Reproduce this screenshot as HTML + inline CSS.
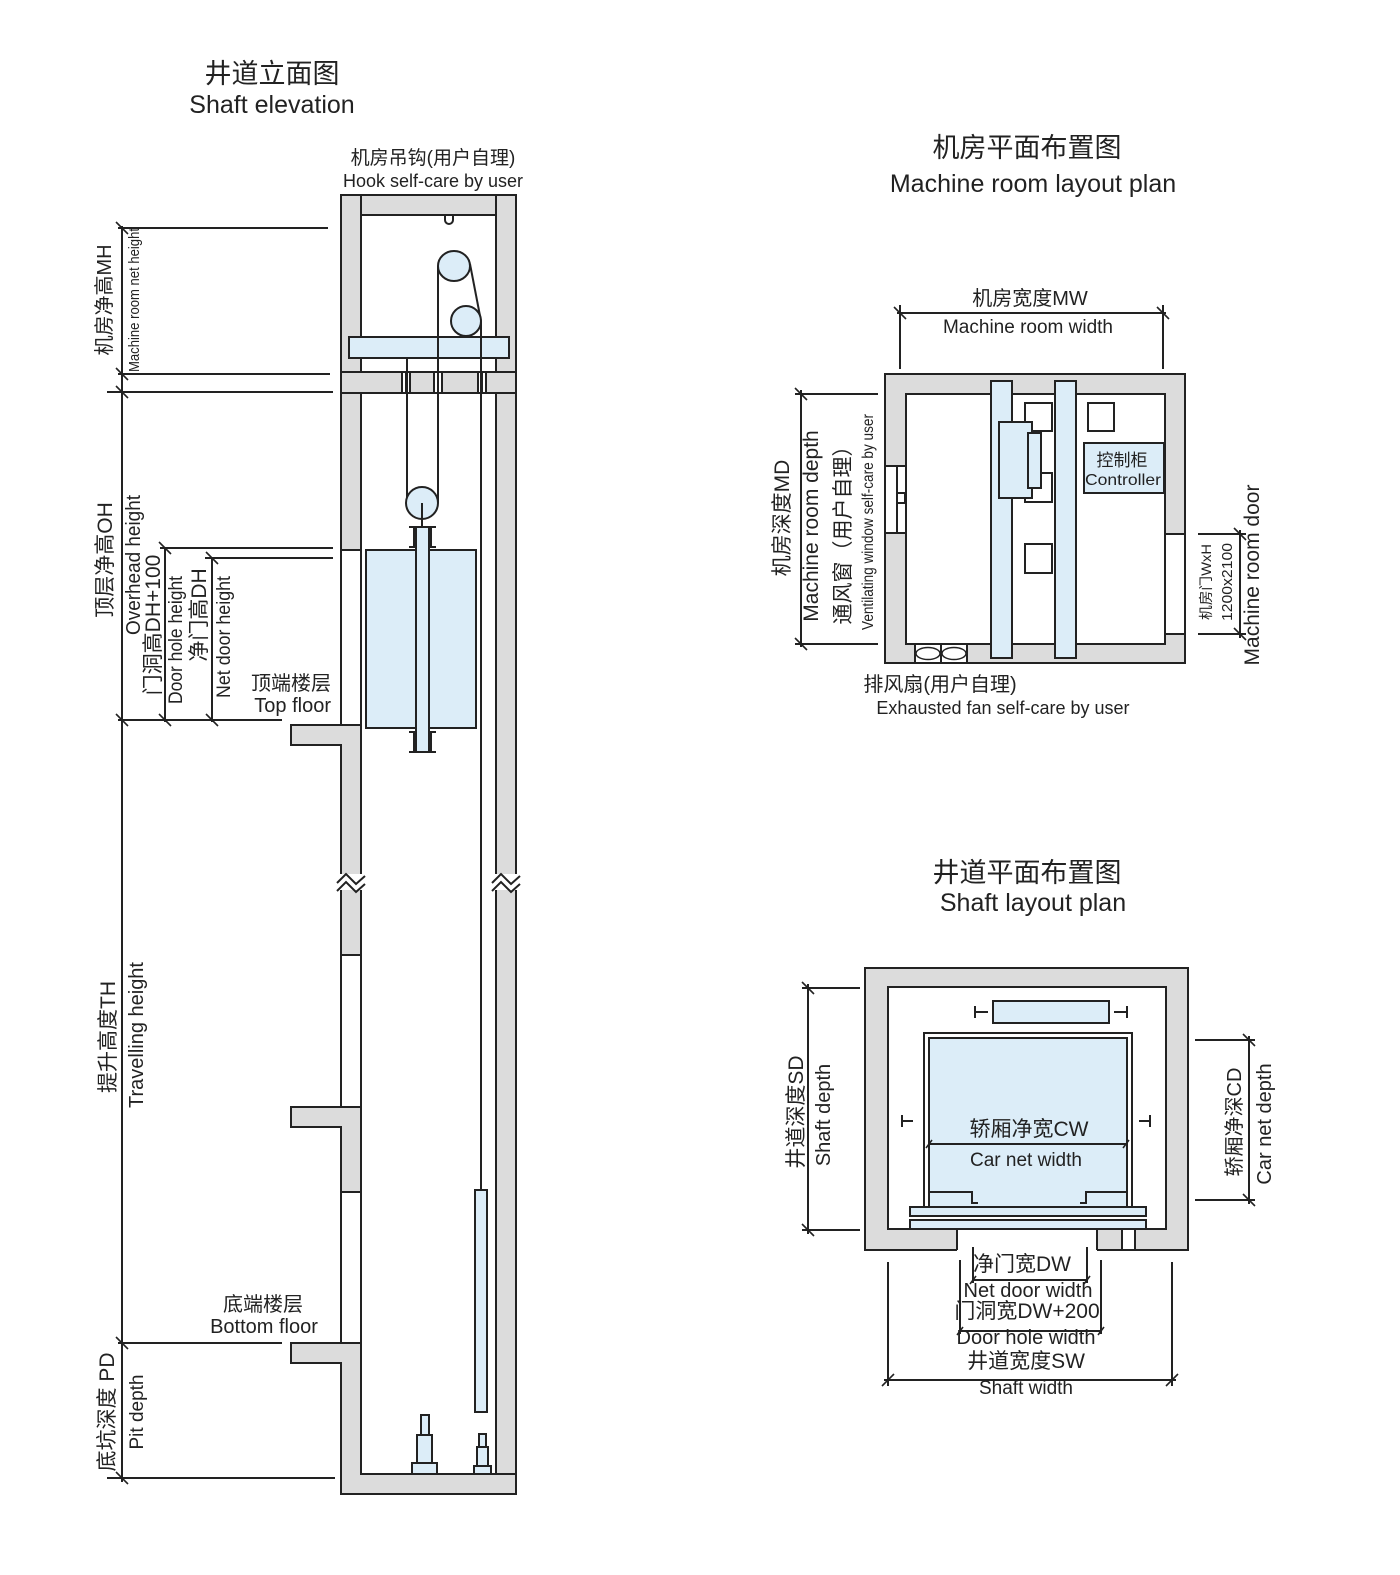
<!DOCTYPE html>
<html><head><meta charset="utf-8"><style>
html,body{margin:0;padding:0;background:#fff;}
svg{display:block;}
text{font-family:"Liberation Sans","Noto Sans CJK SC",sans-serif;fill:#222;}
</style></head><body>
<svg width="1400" height="1575" viewBox="0 0 1400 1575" xmlns="http://www.w3.org/2000/svg">
<g stroke="#222" stroke-width="2" fill="none">

<!-- ===== Shaft elevation ===== -->
<rect x="341" y="195" width="175" height="20" fill="#dcdcdc"/>
<rect x="341" y="195" width="20" height="355" fill="#dcdcdc"/>
<rect x="496" y="195" width="20" height="1299" fill="#dcdcdc"/>
<rect x="361" y="215" width="135" height="157" fill="#fff"/>
<rect x="341" y="372" width="175" height="21" fill="#dcdcdc"/>
<rect x="402" y="372" width="8" height="21" fill="#fff"/>
<rect x="434" y="372" width="8" height="21" fill="#fff"/>
<rect x="478" y="372" width="8" height="21" fill="#fff"/>
<line x1="406" y1="372" x2="406" y2="393"/><line x1="438" y1="372" x2="438" y2="393"/><line x1="482" y1="372" x2="482" y2="393"/>
<path d="M445 215 v5 a4 4 0 0 0 8 0 v-5"/>
<rect x="349" y="337" width="160" height="21" fill="#dcedf8"/>
<line x1="438" y1="266" x2="438" y2="503"/>
<line x1="407" y1="358" x2="407" y2="503"/>
<line x1="470" y1="264" x2="481" y2="321"/>
<line x1="481" y1="321" x2="481" y2="1190"/>
<ellipse cx="454" cy="266" rx="16" ry="15" fill="#dcedf8"/>
<ellipse cx="466" cy="321" rx="15" ry="15" fill="#dcedf8"/>
<circle cx="422" cy="503" r="16" fill="#dcedf8"/>
<line x1="422" y1="503" x2="422" y2="527"/>
<rect x="366" y="550" width="110" height="178" fill="#dcedf8"/>
<rect x="416" y="527" width="13" height="225" fill="#dcedf8"/>
<path d="M409 527 h5 v20 h-5 M436 527 h-5 v20 h5 M409 752 h5 v-20 h-5 M436 752 h-5 v-20 h5"/>
<line x1="341" y1="550" x2="341" y2="725"/><line x1="361" y1="550" x2="361" y2="725"/>
<line x1="341" y1="550" x2="361" y2="550"/>
<polygon points="291,725 361,725 361,955 341,955 341,745 291,745" fill="#dcdcdc"/>
<line x1="341" y1="955" x2="341" y2="1107"/><line x1="361" y1="955" x2="361" y2="1107"/>
<polygon points="291,1107 361,1107 361,1192 341,1192 341,1127 291,1127" fill="#dcdcdc"/>
<line x1="341" y1="1192" x2="341" y2="1343"/><line x1="361" y1="1192" x2="361" y2="1343"/>
<polygon points="291,1343 361,1343 361,1474 516,1474 516,1494 341,1494 341,1363 291,1363" fill="#dcdcdc"/>
<rect x="340" y="874" width="22" height="16" fill="#fff" stroke="none"/>
<rect x="495" y="874" width="22" height="16" fill="#fff" stroke="none"/>
<polyline points="337,883 346,874 356,884 365,876"/>
<polyline points="337,891 346,882 356,892 365,884"/>
<polyline points="492,883 501,874 511,884 520,876"/>
<polyline points="492,891 501,882 511,892 520,884"/>
<line x1="341" y1="891" x2="341" y2="955"/><line x1="361" y1="891" x2="361" y2="955"/>
<rect x="475" y="1190" width="12" height="222" fill="#dcedf8"/>
<rect x="412" y="1463" width="25" height="11" fill="#dcedf8"/>
<rect x="417" y="1435" width="15" height="28" fill="#dcedf8"/>
<rect x="421" y="1415" width="8" height="20" fill="#dcedf8"/>
<rect x="474" y="1466" width="17" height="8" fill="#dcedf8"/>
<rect x="477" y="1447" width="11" height="19" fill="#dcedf8"/>
<rect x="479" y="1434" width="7" height="13" fill="#dcedf8"/>

<line x1="122" y1="226" x2="122" y2="1482"/>
<line x1="118" y1="228" x2="328" y2="228"/>
<line x1="118" y1="374" x2="330" y2="374"/>
<line x1="107" y1="392" x2="333" y2="392"/>
<line x1="160" y1="548" x2="333" y2="548"/>
<line x1="205" y1="558" x2="333" y2="558"/>
<line x1="118" y1="720" x2="282" y2="720"/>
<line x1="118" y1="1343" x2="282" y2="1343"/>
<line x1="107" y1="1478" x2="335" y2="1478"/>
<line x1="165" y1="548" x2="165" y2="722"/>
<line x1="212" y1="558" x2="212" y2="722"/>
<g stroke-width="1.6">
<line x1="116" y1="222" x2="128" y2="234"/><line x1="116" y1="368" x2="128" y2="380"/>
<line x1="116" y1="386" x2="128" y2="398"/><line x1="116" y1="714" x2="128" y2="726"/>
<line x1="116" y1="1337" x2="128" y2="1349"/><line x1="116" y1="1472" x2="128" y2="1484"/>
<line x1="159" y1="542" x2="171" y2="554"/><line x1="159" y1="714" x2="171" y2="726"/>
<line x1="206" y1="552" x2="218" y2="564"/><line x1="206" y1="714" x2="218" y2="726"/>
</g>

<!-- ===== Machine room plan ===== -->
<rect x="885" y="374" width="300" height="289" fill="#dcdcdc"/>
<rect x="906" y="394" width="259" height="250" fill="#fff"/>
<rect x="885" y="466" width="21" height="67" fill="#fff"/>
<path d="M897 466 v67 M897 503 h8 v-10 h-8"/>
<rect x="1165" y="534" width="20" height="100" fill="#fff"/>
<rect x="915" y="644" width="52" height="19" fill="#fff"/>
<line x1="941" y1="644" x2="941" y2="663"/>
<ellipse cx="928" cy="653.5" rx="12" ry="6" stroke-width="1.5"/>
<ellipse cx="954" cy="653.5" rx="12" ry="6" stroke-width="1.5"/>
<rect x="1025" y="403" width="27" height="28"/>
<rect x="1025" y="473" width="27" height="29"/>
<rect x="1088" y="403" width="26" height="28"/>
<rect x="1025" y="544" width="27" height="29"/>
<rect x="1084" y="443" width="80" height="50" fill="#dcedf8"/>
<rect x="991" y="381" width="21" height="277" fill="#dcedf8"/>
<rect x="1055" y="381" width="21" height="277" fill="#dcedf8"/>
<rect x="999" y="422" width="33" height="76" fill="#dcedf8"/>
<rect x="1028" y="433" width="13" height="55" fill="#dcedf8"/>
<line x1="897" y1="313" x2="1166" y2="313"/>
<line x1="900" y1="305" x2="900" y2="369"/><line x1="1163" y1="305" x2="1163" y2="369"/>
<line x1="894" y1="307" x2="906" y2="319" stroke-width="1.6"/><line x1="1157" y1="307" x2="1169" y2="319" stroke-width="1.6"/>
<line x1="801" y1="390" x2="801" y2="647"/>
<line x1="795" y1="394" x2="878" y2="394"/><line x1="795" y1="644" x2="878" y2="644"/>
<line x1="795" y1="388" x2="807" y2="400" stroke-width="1.6"/><line x1="795" y1="638" x2="807" y2="650" stroke-width="1.6"/>
<line x1="1240" y1="530" x2="1240" y2="638"/>
<line x1="1198" y1="534" x2="1246" y2="534"/><line x1="1198" y1="634" x2="1246" y2="634"/>
<line x1="1234" y1="528" x2="1246" y2="540" stroke-width="1.6"/><line x1="1234" y1="628" x2="1246" y2="640" stroke-width="1.6"/>

<!-- ===== Shaft plan ===== -->
<rect x="865" y="968" width="323" height="282" fill="#dcdcdc"/>
<rect x="888" y="987" width="278" height="242" fill="#fff"/>
<rect x="957" y="1228" width="140" height="23" fill="#fff" stroke="none"/>
<path d="M957 1229 v21 M1097 1229 v21"/>
<rect x="1122" y="1229" width="13" height="21" fill="#fff"/>
<rect x="993" y="1001" width="116" height="22" fill="#dcedf8"/>
<path d="M975 1006 v12 M975 1012 h13 M1127 1006 v12 M1127 1012 h-13"/>
<path d="M902 1115 v12 M902 1121 h11 M1150 1115 v12 M1150 1121 h-11"/>
<rect x="924" y="1033" width="208" height="174" fill="#fff" stroke="none"/>
<rect x="929" y="1038" width="198" height="169" fill="#dcedf8" stroke="none"/>
<path d="M924 1207 V1033 H1132 V1207"/>
<path d="M929 1207 V1038 H1127 V1207"/>
<path d="M929 1192 H972 V1203 H978 M1127 1192 H1086 V1203 H1080"/>
<rect x="910" y="1207" width="236" height="9" fill="#dcedf8"/>
<rect x="910" y="1220" width="236" height="9" fill="#dcedf8"/>
<line x1="929" y1="1144" x2="1126" y2="1144"/>
<line x1="926" y1="1148" x2="932" y2="1140" stroke-width="1.6"/><line x1="1123" y1="1148" x2="1129" y2="1140" stroke-width="1.6"/>
<line x1="808" y1="984" x2="808" y2="1234"/>
<line x1="802" y1="988" x2="860" y2="988"/><line x1="802" y1="1230" x2="860" y2="1230"/>
<line x1="802" y1="982" x2="814" y2="994" stroke-width="1.6"/><line x1="802" y1="1224" x2="814" y2="1236" stroke-width="1.6"/>
<line x1="1249" y1="1036" x2="1249" y2="1204"/>
<line x1="1195" y1="1040" x2="1255" y2="1040"/><line x1="1195" y1="1200" x2="1255" y2="1200"/>
<line x1="1243" y1="1034" x2="1255" y2="1046" stroke-width="1.6"/><line x1="1243" y1="1194" x2="1255" y2="1206" stroke-width="1.6"/>
<line x1="973" y1="1247" x2="973" y2="1283"/><line x1="1087" y1="1247" x2="1087" y2="1283"/>
<line x1="973" y1="1280" x2="1087" y2="1280"/>
<line x1="960" y1="1260" x2="960" y2="1334"/><line x1="1101" y1="1260" x2="1101" y2="1334"/>
<line x1="960" y1="1331" x2="1101" y2="1331"/>
<line x1="888" y1="1262" x2="888" y2="1386"/><line x1="1172" y1="1262" x2="1172" y2="1386"/>
<line x1="884" y1="1380" x2="1176" y2="1380"/>
<g stroke-width="1.6">
<line x1="882" y1="1386" x2="894" y2="1374"/><line x1="1166" y1="1386" x2="1178" y2="1374"/>
<line x1="970" y1="1284" x2="976" y2="1276"/><line x1="1084" y1="1284" x2="1090" y2="1276"/>
<line x1="957" y1="1335" x2="963" y2="1327"/><line x1="1098" y1="1335" x2="1104" y2="1327"/>
</g>
</g>

<g text-anchor="middle">
<text x="272" y="83" font-size="27">井道立面图</text>
<text x="272" y="113" font-size="25">Shaft elevation</text>
<text x="433" y="164" font-size="19">机房吊钩(用户自理)</text>
<text x="433" y="187" font-size="18">Hook self-care by user</text>
<text x="1027" y="157" font-size="27">机房平面布置图</text>
<text x="1033" y="192" font-size="25">Machine room layout plan</text>
<text x="1030" y="305" font-size="20">机房宽度MW</text>
<text x="1028" y="333" font-size="19">Machine room width</text>
<text x="1122" y="466" font-size="17">控制柜</text>
<text x="1123" y="485" font-size="16" textLength="76" lengthAdjust="spacingAndGlyphs">Controller</text>
<text x="940" y="691" font-size="20">排风扇(用户自理)</text>
<text x="1003" y="714" font-size="18">Exhausted fan self-care by user</text>
<text x="1027" y="882" font-size="27">井道平面布置图</text>
<text x="1033" y="911" font-size="25">Shaft  layout plan</text>
<text x="1029" y="1136" font-size="21">轿厢净宽CW</text>
<text x="1026" y="1166" font-size="19">Car net width</text>
<text x="1022" y="1271" font-size="21">净门宽DW</text>
<text x="1028" y="1297" font-size="20">Net door width</text>
<text x="1027" y="1318" font-size="21">门洞宽DW+200</text>
<text x="1026" y="1344" font-size="20">Door hole width</text>
<text x="1026" y="1368" font-size="21">井道宽度SW</text>
<text x="1026" y="1394" font-size="19">Shaft width</text>
<text x="263" y="1311" font-size="20">底端楼层</text>
<text x="264" y="1333" font-size="20">Bottom floor</text>
</g>
<g text-anchor="end">
<text x="331" y="690" font-size="20">顶端楼层</text>
<text x="331" y="712" font-size="20">Top floor</text>
</g>
<g text-anchor="middle">
<text transform="translate(111,300) rotate(-90)" font-size="20">机房净高MH</text>
<text transform="translate(139,300) rotate(-90)" font-size="15" textLength="144" lengthAdjust="spacingAndGlyphs">Machine room net height</text>
<text transform="translate(112,560) rotate(-90)" font-size="21">顶层净高OH</text>
<text transform="translate(140,565) rotate(-90)" font-size="20" textLength="140" lengthAdjust="spacingAndGlyphs">Overhead height</text>
<text transform="translate(160,625) rotate(-90)" font-size="21">门洞高DH+100</text>
<text transform="translate(182,640) rotate(-90)" font-size="19" textLength="128" lengthAdjust="spacingAndGlyphs">Door hole height</text>
<text transform="translate(206,615) rotate(-90)" font-size="21">净门高DH</text>
<text transform="translate(230,637) rotate(-90)" font-size="19" textLength="122" lengthAdjust="spacingAndGlyphs">Net door height</text>
<text transform="translate(115,1037) rotate(-90)" font-size="21">提升高度TH</text>
<text transform="translate(143,1035) rotate(-90)" font-size="20" textLength="146" lengthAdjust="spacingAndGlyphs">Travelling height</text>
<text transform="translate(114,1412) rotate(-90)" font-size="21">底坑深度 PD</text>
<text transform="translate(143,1412) rotate(-90)" font-size="19">Pit depth</text>
<text transform="translate(789,518) rotate(-90)" font-size="21">机房深度MD</text>
<text transform="translate(818,526) rotate(-90)" font-size="21">Machine room depth</text>
<text transform="translate(850,530) rotate(-90)" font-size="21">通风窗（用户自理）</text>
<text transform="translate(873,522) rotate(-90)" font-size="16" textLength="216" lengthAdjust="spacingAndGlyphs">Ventilating window self-care by user</text>
<text transform="translate(1211,582) rotate(-90)" font-size="14" textLength="76" lengthAdjust="spacingAndGlyphs">机房门WxH</text>
<text transform="translate(1232,582) rotate(-90)" font-size="15" textLength="78" lengthAdjust="spacingAndGlyphs">1200x2100</text>
<text transform="translate(1259,575) rotate(-90)" font-size="21">Machine room door</text>
<text transform="translate(803,1112) rotate(-90)" font-size="21">井道深度SD</text>
<text transform="translate(830,1115) rotate(-90)" font-size="20">Shaft depth</text>
<text transform="translate(1241,1122) rotate(-90)" font-size="20">轿厢净深CD</text>
<text transform="translate(1271,1124) rotate(-90)" font-size="20">Car net depth</text>
</g>
</svg>
</body></html>
